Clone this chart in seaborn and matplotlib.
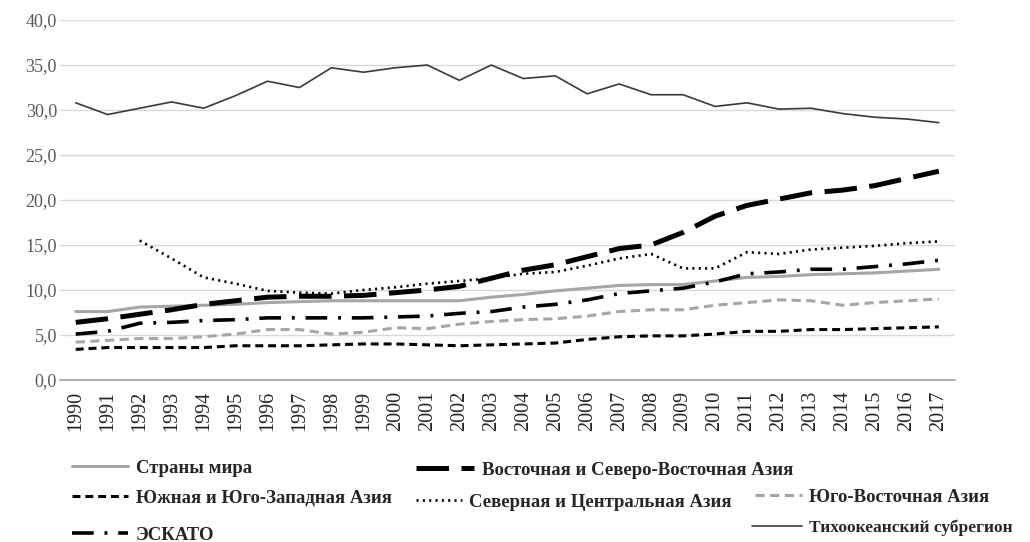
import matplotlib
matplotlib.use("Agg")
import matplotlib.pyplot as plt
import seaborn as sns
from matplotlib.ticker import FuncFormatter

years = list(range(1990, 2018))
nca_years = list(range(1992, 2018))

world = [7.6, 7.6, 8.1, 8.2, 8.3, 8.4, 8.6, 8.7, 8.8, 8.8, 8.8, 8.8, 8.8, 9.2,
         9.5, 9.9, 10.2, 10.5, 10.6, 10.6, 11.0, 11.4, 11.5, 11.7, 11.8, 11.9, 12.1, 12.3]
east_ne = [6.4, 6.8, 7.3, 7.8, 8.4, 8.8, 9.2, 9.3, 9.3, 9.4, 9.7, 10.0, 10.4, 11.3,
           12.2, 12.8, 13.7, 14.6, 15.0, 16.4, 18.2, 19.4, 20.1, 20.8, 21.1, 21.6, 22.4, 23.2]
south_sw = [3.4, 3.6, 3.6, 3.6, 3.6, 3.8, 3.8, 3.8, 3.9, 4.0, 4.0, 3.9, 3.8, 3.9,
            4.0, 4.1, 4.5, 4.8, 4.9, 4.9, 5.1, 5.4, 5.4, 5.6, 5.6, 5.7, 5.8, 5.9]
north_central = [15.5, 13.5, 11.4, 10.7, 9.9, 9.7, 9.6, 10.0, 10.3, 10.7, 11.0, 11.3,
                 11.8, 12.0, 12.7, 13.5, 14.0, 12.4, 12.4, 14.2, 14.0, 14.5, 14.7, 14.9, 15.2, 15.4]
south_east = [4.2, 4.4, 4.6, 4.6, 4.8, 5.1, 5.6, 5.6, 5.1, 5.3, 5.8, 5.7, 6.2, 6.5,
              6.7, 6.8, 7.1, 7.6, 7.8, 7.8, 8.3, 8.6, 8.9, 8.8, 8.3, 8.6, 8.8, 9.0]
escap = [5.1, 5.4, 6.3, 6.4, 6.6, 6.7, 6.9, 6.9, 6.9, 6.9, 7.0, 7.1, 7.4, 7.6,
         8.1, 8.4, 8.9, 9.6, 9.9, 10.2, 10.9, 11.8, 12.0, 12.3, 12.3, 12.6, 12.9, 13.3]
pacific = [30.8, 29.5, 30.2, 30.9, 30.2, 31.6, 33.2, 32.5, 34.7, 34.2, 34.7, 35.0, 33.3, 35.0,
           33.5, 33.8, 31.8, 32.9, 31.7, 31.7, 30.4, 30.8, 30.1, 30.2, 29.6, 29.2, 29.0, 28.6]

sns.set_style("white")
plt.rcParams['font.family'] = ['Liberation Serif', 'DejaVu Serif']

fig = plt.figure(figsize=(10.3, 5.42), dpi=100)
ax = fig.add_axes([0.058, 0.299, 0.869, 0.664])

series = [
    (years, world, "Страны мира", dict(color="#a6a6a6", lw=2.2, ls="-")),
    (years, east_ne, "Восточная и Северо-Восточная Азия", dict(color="black", lw=3.6, ls=(0, (6.5, 2.5)))),
    (years, south_sw, "Южная и Юго-Западная Азия", dict(color="black", lw=2.2, ls=(0, (2.6, 1.6)))),
    (nca_years, north_central, "Северная и Центральная Азия", dict(color="black", lw=1.9, ls=(0, (0.8, 1.6)))),
    (years, south_east, "Юго-Восточная Азия", dict(color="#a6a6a6", lw=2.2, ls=(0, (3.0, 1.8)))),
    (years, escap, "ЭСКАТО", dict(color="black", lw=2.6, ls=(0, (6, 3, 0.8, 3)))),
    (years, pacific, "Тихоокеанский субрегион", dict(color="#3a3a3a", lw=1.2, ls="-")),
]

handles = {}
for xs, ys, name, st in series:
    sns.lineplot(x=xs, y=ys, ax=ax, color=st["color"], linewidth=st["lw"],
                 linestyle=st["ls"], legend=False)
    handles[name] = ax.lines[-1]

ax.set_xlim(1989.5, 2017.5)
ax.set_ylim(0, 40)
ax.set_yticks(range(0, 41, 5))
ax.yaxis.set_major_formatter(FuncFormatter(lambda v, p: f"{v:.1f}".replace(".", ",")))
ax.set_xticks(years)
ax.set_xticklabels([str(y) for y in years], rotation=90)
ax.tick_params(axis="y", colors="#595959", labelsize=13, length=0, pad=2)
ax.tick_params(axis="x", colors="#262626", labelsize=14.5, length=0, pad=8)
ax.grid(axis="y", color="#d9d9d9", lw=1)
ax.set_axisbelow(True)
for s in ["top", "right", "left"]:
    ax.spines[s].set_visible(False)
ax.spines["bottom"].set_color("#a0a0a0")
ax.spines["bottom"].set_linewidth(1.2)

# legend entries placed one by one, like in the original
entries = [
    ("Страны мира", 72, 468, 3.0, 13.5),
    ("Восточная и Северо-Восточная Азия", 416, 470, 3.1, 13.5),
    ("Южная и Юго-Западная Азия", 72, 498, 3.0, 13.5),
    ("Северная и Центральная Азия", 416, 502, 2.45, 13.5),
    ("Юго-Восточная Азия", 755, 497, 2.5, 13.5),
    ("ЭСКАТО", 72, 535, 3.0, 13.5),
    ("Тихоокеанский субрегион", 752, 528, 2.9, 12.5),
]
for name, px, py, hl, fs in entries:
    fig.legend([handles[name]], [name], loc="center left",
               bbox_to_anchor=(px / 1030, 1 - py / 542), frameon=False,
               borderpad=0, borderaxespad=0, handlelength=hl, handletextpad=0.4,
               prop={"family": "Liberation Serif", "weight": "bold", "size": fs})

fig.savefig("out.png", dpi=100)
